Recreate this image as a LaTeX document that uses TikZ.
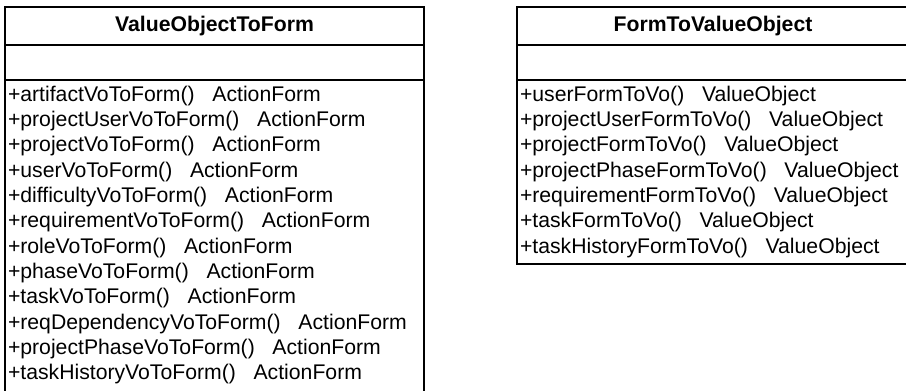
\documentclass[tikz,border=0pt]{standalone}
\usepackage{fontspec}
\setmainfont{Liberation Sans}
\usetikzlibrary{positioning}
\newcommand\umlfont{\fontsize{15.9pt}{19pt}\selectfont}
\tikzset{method/.style = {anchor=base west, inner sep=0pt, font=\umlfont}}

\begin{document}
\begin{tikzpicture}[line width=1.2pt,
  every node/.style={rectangle, inner sep=0pt, outer sep=0pt},
  classhead/.style={draw, minimum height=28.5pt, font=\bfseries\umlfont},
  classpart/.style={draw},
  attrpart/.style={classpart, minimum height=26.25pt}
  ]
  \useasboundingbox (0,0) rectangle (679.5pt,-292.5pt);

  % the class ValueObjectToForm
  \node[classhead, minimum width=314.25pt, anchor=north west] (vhead) at (3.75pt,-5.25pt) {ValueObjectToForm};
  \node[attrpart, minimum width=314.25pt, below=0pt of vhead] (vattr) {};
  \node[classpart, minimum width=314.25pt, minimum height=238.5pt, below=0pt of vattr] (vops) {};
  \foreach \op [count=\i] in {+artifactVoToForm(), +projectUserVoToForm(), +projectVoToForm(),
      +userVoToForm(), +difficultyVoToForm(), +requirementVoToForm(), +roleVoToForm(),
      +phaseVoToForm(), +taskVoToForm(), +reqDependencyVoToForm(), +projectPhaseVoToForm(),
      +taskHistoryVoToForm()}
  \node[method] (vop\i) at ([xshift=2.25pt, yshift={-15.75pt-(\i-1)*19pt}]vops.north west) {\op\hspace{0.834em}ActionForm};

  % the class FormToValueObject
  \node[classhead, minimum width=294pt, anchor=north west] (fhead) at (387.75pt,-5.25pt) {FormToValueObject};
  \node[attrpart, minimum width=294pt, below=0pt of fhead] (fattr) {};
  \node[classpart, minimum width=294pt, minimum height=138pt, below=0pt of fattr] (fops) {};
  \foreach \op [count=\i] in {+userFormToVo(), +projectUserFormToVo(), +projectFormToVo(),
      +projectPhaseFormToVo(), +requirementFormToVo(), +taskFormToVo(), +taskHistoryFormToVo()}
  \node[method] (fop\i) at ([xshift=2.25pt, yshift={-15.75pt-(\i-1)*19pt}]fops.north west) {\op\hspace{0.834em}ValueObject};
\end{tikzpicture}
\end{document}
